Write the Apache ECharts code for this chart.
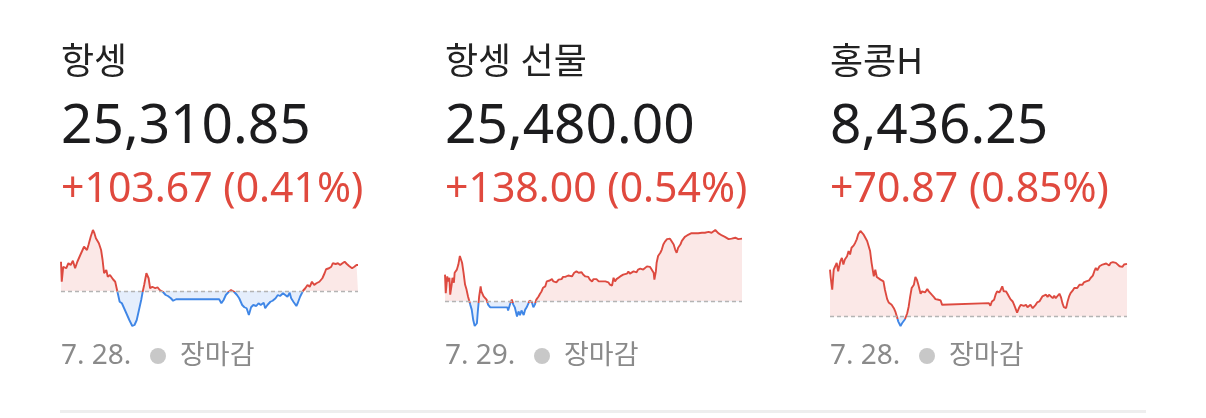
<!DOCTYPE html>
<html>
<head>
<meta charset="utf-8">
<script src="https://cdn.jsdelivr.net/npm/echarts@6/dist/echarts.min.js"></script>
<style>
    html, body { margin: 0; padding: 0; background: #fff; }
    #main { width: 1206px; height: 418px; }
</style>
</head>
<body>
<div id="main"></div>
<script>
// 패널 텍스트
var names = ['항셍', '항셍 선물', '홍콩H'];
var prices = ['25,310.85', '25,480.00', '8,436.25'];
var changes = ['+103.67 (0.41%)', '+138.00 (0.54%)', '+70.87 (0.85%)'];
var dates = ['7. 28.', '7. 29.', '7. 28.'];
var status = '장마감';

// 전일 종가 (기준선)
var prevClose = [25207.18, 25342.00, 8365.38];

// 항셍 (장 시작 후 분)
var hsiTime = [0, 1, 3, 7, 10, 13, 16, 19, 22, 26, 28, 31, 35, 37, 40, 43, 45, 47, 51, 54, 56, 58, 61, 63, 66, 70, 73, 76, 79, 82, 85, 88, 92, 96, 99, 102, 105, 108, 110, 112, 115, 118, 120, 123, 127, 130, 133, 137, 141, 144, 148, 151, 155, 213, 216, 219, 222, 226, 229, 231, 233, 237, 240, 244, 247, 250, 253, 256, 259, 263, 266, 269, 273, 275, 278, 282, 285, 289, 292, 295, 299, 302, 305, 308, 310, 313, 317, 319, 322, 326, 329, 332, 335, 338, 341, 344, 348, 352, 355, 357, 361, 364, 366, 370, 373, 376, 379, 382, 385, 388, 392, 395, 398, 400];
var hsiValue = [25324, 25244, 25304, 25298, 25318, 25311, 25328, 25298, 25324, 25351, 25344, 25384, 25371, 25391, 25424, 25451, 25438, 25418, 25398, 25371, 25331, 25278, 25291, 25264, 25271, 25254, 25244, 25204, 25164, 25158, 25138, 25118, 25091, 25067, 25071, 25091, 25131, 25171, 25204, 25231, 25278, 25258, 25218, 25224, 25218, 25222, 25211, 25204, 25191, 25187, 25178, 25168, 25174, 25174, 25158, 25171, 25191, 25204, 25211, 25218, 25204, 25191, 25178, 25151, 25142, 25138, 25111, 25142, 25151, 25147, 25158, 25151, 25160, 25138, 25151, 25164, 25168, 25178, 25191, 25187, 25198, 25191, 25184, 25200, 25178, 25164, 25147, 25160, 25184, 25208, 25218, 25231, 25224, 25244, 25231, 25238, 25244, 25258, 25278, 25294, 25298, 25304, 25318, 25315, 25318, 25311, 25318, 25324, 25315, 25307, 25298, 25304, 25311, 25310.85];

// 항셍 선물
var futTime = [0, 1, 3, 4, 6, 7, 9, 10, 12, 13, 16, 18, 20, 22, 23, 25, 27, 29, 31, 34, 36, 38, 40, 43, 44, 46, 48, 49, 52, 54, 56, 58, 61, 84, 85, 88, 90, 92, 94, 97, 99, 101, 103, 106, 108, 110, 112, 114, 117, 119, 121, 123, 126, 128, 130, 132, 135, 137, 139, 141, 144, 146, 148, 150, 153, 155, 157, 159, 162, 164, 166, 171, 174, 177, 180, 184, 186, 189, 191, 193, 195, 198, 200, 202, 204, 207, 209, 211, 213, 216, 218, 220, 222, 225, 227, 229, 231, 233, 236, 238, 240, 242, 245, 247, 249, 251, 254, 256, 258, 260, 263, 265, 267, 269, 272, 274, 276, 278, 281, 282, 284, 285, 287, 290, 292, 294, 296, 299, 301, 303, 305, 308, 310, 312, 314, 317, 319, 321, 323, 326, 328, 332, 337, 341, 346, 350, 355, 359, 364, 366, 368, 373, 377, 382, 384, 386, 391, 395, 400];
var futValue = [25401, 25360, 25397, 25386, 25394, 25357, 25379, 25394, 25383, 25405, 25412, 25423, 25442, 25445, 25427, 25405, 25379, 25368, 25353, 25335, 25324, 25301, 25288, 25294, 25316, 25353, 25375, 25364, 25353, 25349, 25346, 25335, 25329, 25329, 25322, 25338, 25346, 25335, 25329, 25309, 25320, 25312, 25322, 25312, 25324, 25329, 25332, 25344, 25340, 25329, 25335, 25346, 25353, 25359, 25364, 25372, 25375, 25386, 25390, 25388, 25391, 25386, 25388, 25384, 25390, 25386, 25391, 25396, 25396, 25399, 25399, 25397, 25405, 25408, 25405, 25406, 25401, 25397, 25394, 25396, 25390, 25386, 25391, 25388, 25391, 25386, 25388, 25386, 25383, 25386, 25383, 25384, 25379, 25377, 25394, 25386, 25391, 25394, 25397, 25396, 25401, 25405, 25403, 25408, 25403, 25406, 25408, 25411, 25406, 25412, 25414, 25416, 25412, 25416, 25419, 25416, 25418, 25416, 25405, 25390, 25408, 25427, 25442, 25449, 25456, 25467, 25473, 25479, 25477, 25480, 25475, 25467, 25456, 25449, 25460, 25467, 25475, 25479, 25484, 25487, 25490, 25492, 25492, 25492, 25493, 25493, 25495, 25493, 25499, 25497, 25492, 25487, 25484, 25479, 25477, 25480, 25482, 25479, 25480];

// 홍콩H
var hscTime = [0, 1, 3, 5, 7, 9, 11, 14, 16, 18, 20, 23, 25, 27, 29, 32, 34, 36, 38, 41, 43, 45, 47, 50, 52, 54, 56, 59, 61, 63, 65, 68, 70, 72, 74, 77, 79, 81, 83, 86, 88, 90, 92, 95, 97, 99, 101, 104, 106, 108, 110, 113, 115, 117, 119, 122, 124, 126, 128, 131, 133, 135, 137, 140, 142, 144, 146, 149, 151, 153, 214, 216, 218, 221, 223, 225, 228, 230, 232, 234, 237, 239, 241, 243, 246, 248, 250, 252, 255, 257, 259, 261, 264, 266, 268, 270, 273, 275, 277, 279, 282, 284, 286, 288, 291, 293, 295, 297, 300, 302, 304, 306, 309, 311, 313, 315, 318, 320, 322, 324, 327, 329, 331, 333, 336, 338, 340, 342, 345, 347, 349, 351, 354, 356, 358, 360, 363, 365, 367, 369, 372, 374, 376, 378, 381, 383, 385, 387, 390, 392, 394, 396, 400];
var hscValue = [8428.6, 8417.3, 8401.5, 8428.6, 8433.1, 8437.7, 8426.4, 8439.9, 8444.4, 8435.4, 8442.2, 8446.7, 8453.5, 8449.0, 8458.0, 8461.2, 8464.8, 8469.3, 8476.1, 8480.6, 8481.9, 8476.1, 8473.8, 8467.0, 8460.3, 8453.5, 8437.7, 8419.6, 8428.6, 8418.7, 8420.5, 8415.1, 8416.0, 8412.8, 8401.5, 8388.9, 8384.4, 8383.5, 8381.2, 8376.7, 8372.2, 8365.4, 8358.6, 8352.7, 8356.4, 8355.5, 8361.8, 8369.9, 8379.0, 8392.5, 8403.8, 8408.3, 8418.7, 8415.1, 8408.3, 8396.1, 8399.3, 8401.5, 8397.9, 8402.4, 8399.3, 8397.0, 8394.8, 8391.6, 8388.9, 8390.2, 8388.0, 8387.1, 8381.2, 8383.5, 8383.5, 8379.9, 8385.7, 8388.0, 8394.8, 8399.3, 8397.9, 8401.5, 8406.1, 8399.3, 8399.3, 8396.1, 8392.5, 8388.9, 8385.7, 8381.2, 8379.0, 8370.8, 8378.0, 8381.2, 8383.5, 8379.9, 8381.2, 8378.0, 8379.9, 8381.2, 8376.7, 8374.4, 8381.2, 8384.4, 8385.7, 8388.0, 8392.5, 8393.4, 8394.8, 8391.6, 8394.8, 8393.4, 8390.2, 8393.4, 8390.2, 8388.9, 8396.1, 8391.6, 8383.5, 8378.0, 8376.7, 8385.7, 8392.5, 8397.0, 8400.6, 8403.8, 8406.1, 8403.8, 8408.3, 8410.6, 8408.3, 8411.5, 8412.8, 8410.6, 8414.2, 8417.3, 8420.5, 8426.4, 8430.9, 8427.7, 8433.1, 8434.1, 8435.4, 8433.1, 8436.8, 8435.4, 8434.1, 8437.7, 8438.6, 8439.9, 8437.7, 8435.4, 8433.1, 8430.9, 8432.3, 8435.4, 8436.25];

var times = [hsiTime, futTime, hscTime];
var values = [hsiValue, futValue, hscValue];

var panelLeft = [61, 445, 830];
var UP = '#dd4a40', DOWN = '#3f86e6';
var UP_FILL = '#fbe8e7', DOWN_FILL = '#e5eefc';
var FONT = '"Noto Sans", "Noto Sans CJK KR", sans-serif';

// 기준선 위는 빨강, 아래는 파랑 (세로 그라디언트를 기준선에서 끊음)
function splitColor(vals, base, upColor, downColor) {
    var max = Math.max.apply(null, vals), min = Math.min.apply(null, vals);
    var p = (max - base) / (max - min);
    p = Math.max(0, Math.min(1, p));
    return new echarts.graphic.LinearGradient(0, 0, 0, 1, [
        {offset: 0, color: upColor},
        {offset: p, color: upColor},
        {offset: p, color: downColor},
        {offset: 1, color: downColor}
    ]);
}

var chart = echarts.init(document.getElementById('main'), null, {renderer: 'canvas'});

var grids = [], xAxes = [], yAxes = [], series = [], graphics = [];

for (var i = 0; i < 3; i++) {
    var x0 = panelLeft[i];

    grids.push({left: x0, top: 230, width: 297, height: 96});
    xAxes.push({type: 'value', gridIndex: i, min: 0, max: 400, show: false});
    yAxes.push({type: 'value', gridIndex: i, scale: true, min: 'dataMin', max: 'dataMax', show: false});

    var pts = [];
    for (var k = 0; k < times[i].length; k++) {
        pts.push([times[i][k], values[i][k]]);
    }

    series.push({
        type: 'line',
        xAxisIndex: i,
        yAxisIndex: i,
        data: pts,
        symbol: 'none',
        lineStyle: {width: 1.9, color: splitColor(values[i], prevClose[i], UP, DOWN)},
        itemStyle: {color: UP},
        areaStyle: {opacity: 1, origin: prevClose[i], color: splitColor(values[i], prevClose[i], UP_FILL, DOWN_FILL)},
        z: 3,
        markLine: {
            silent: true,
            symbol: ['none', 'none'],
            label: {show: false},
            lineStyle: {color: '#b4b4b4', type: [4, 3], width: 1.3},
            data: [{yAxis: prevClose[i]}]
        }
    });

    graphics.push(
        {type: 'text', x: x0, y: 64, style: {text: names[i], font: '400 36px ' + FONT, fill: '#222', textVerticalAlign: 'middle'}},
        {type: 'text', x: x0, y: 127, style: {text: prices[i], font: '400 55px ' + FONT, fill: '#1c1c1e', textVerticalAlign: 'middle'}},
        {type: 'text', x: x0, y: 190, style: {text: changes[i], font: '400 41px ' + FONT, fill: '#e0493e', textVerticalAlign: 'middle'}},
        {type: 'text', x: x0, y: 356, style: {text: dates[i], font: '400 28px ' + FONT, fill: '#8a8a8a', textVerticalAlign: 'middle'}},
        {type: 'circle', shape: {cx: x0 + 97, cy: 356, r: 8}, style: {fill: '#c8c8c8'}},
        {type: 'text', x: x0 + 119, y: 356, style: {text: status, font: '400 27px ' + FONT, fill: '#8a8a8a', textVerticalAlign: 'middle'}}
    );
}

// 하단 구분선
graphics.push({type: 'rect', shape: {x: 60, y: 410, width: 1086, height: 3}, style: {fill: '#eeeeee'}});

chart.setOption({
    animation: false,
    backgroundColor: '#fff',
    grid: grids,
    xAxis: xAxes,
    yAxis: yAxes,
    series: series,
    graphic: graphics
});
</script>
</body>
</html>
